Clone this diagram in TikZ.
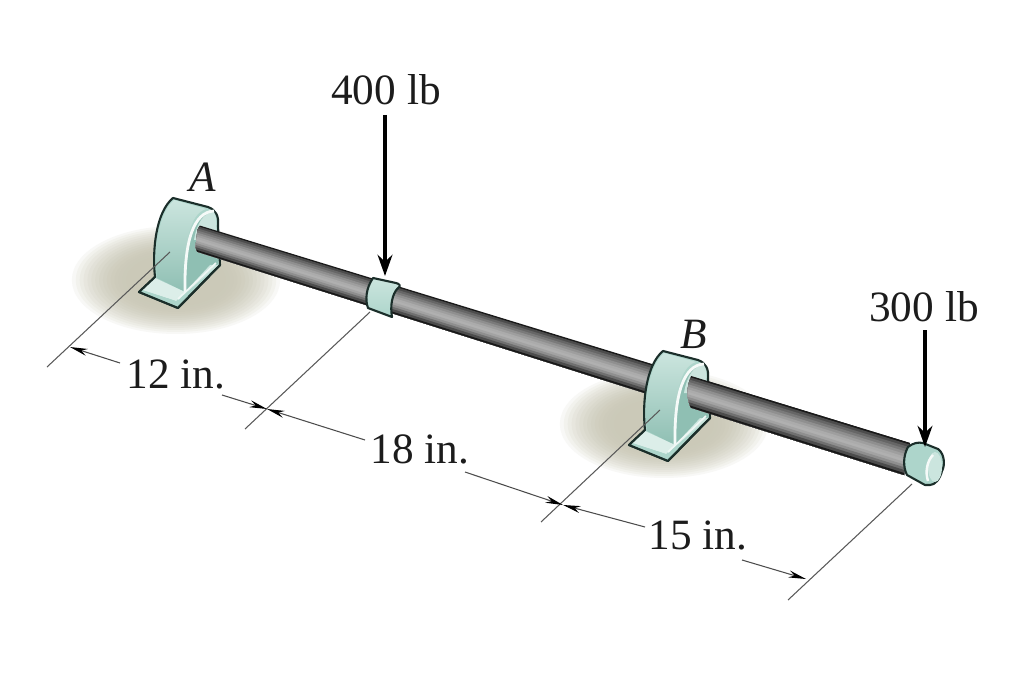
\documentclass[tikz,border=0pt]{standalone}
\usepackage{fontspec}
\setmainfont{Liberation Serif}
\usetikzlibrary{arrows.meta, calc}

\definecolor{blockedge}{HTML}{1B2E2A}
\definecolor{blocklight}{HTML}{DCEEE9}
\definecolor{blockhigh}{HTML}{CBE5DE}
\definecolor{blockmid}{HTML}{ADD5CB}
\definecolor{blockdark}{HTML}{8FBFB3}
\definecolor{groundtone}{HTML}{C2C0AC}
\definecolor{inktone}{HTML}{1C1C1C}

\tikzset{
  label/.style={font=\fontsize{12.3}{14}\selectfont, text=inktone, inner sep=1pt},
  extline/.style={draw=black!65, line width=0.3pt},
  dimline/.style={draw=black!70, line width=0.3pt},
  dimtip/.style={-{Stealth[length=5pt, width=2pt, black]}},
  loadarrow/.style={draw=black, line width=1.15pt, -{Stealth[length=6pt, width=4.2pt, black]}},
  blockline/.style={draw=blockedge, line width=0.6pt, line join=round}
}

% a soft patch of shadow on the ground
\newcommand{\groundpatch}[1]{
  \foreach \i in {0,...,15}{
    \pgfmathsetmacro{\shr}{1-\i*0.036}
    \pgfmathsetmacro{\tone}{85*(1-(1-\i/15)*(1-\i/15))}
    \fill[groundtone!\tone!white] (#1) ellipse ({108*\shr} and {56*\shr});
  }
}

% one pillow block, drawn at the place of support A
\newcommand{\pillowblock}{
  \fill[blockmid, blockline] (155,277) .. controls (152,250) and (156,212) .. (173,198) -- (208,207)
    .. controls (216,210) and (219,216) .. (218,226) -- (220,265) -- (178,308) -- (139,292) -- cycle;
  \shade[top color=blockhigh, bottom color=blockdark] (157,278) .. controls (154,250) and (158,214) .. (174,200)
    -- (206,209) .. controls (190,214) and (184,240) .. (185,292) -- cycle;
  \fill[blockdark] (212,212) .. controls (194,214) and (186,240) .. (186,291) -- (218,264) -- (216,226) -- cycle;
  \fill[blockhigh] (214,212) .. controls (204,213) and (197,222) .. (194,240) -- (217,240) -- (216,218) -- cycle;
  \draw[white!80!blockhigh, line width=0.8pt] (214,211) .. controls (194,212) and (184,240) .. (185,292);
  \fill[blocklight] (142,290) -- (155,278) -- (185,292) -- (176,301) -- cycle;
  \fill[blockhigh] (176,301) -- (185,292) -- (210,265) -- (219,265) -- cycle;
  \fill[blockmid] (140,292) -- (142,290) -- (176,301) -- (178,307) -- cycle;
  \draw[white!70!blockhigh, line width=0.5pt] (178,299) -- (216,263);
  \draw[blockline] (155,277) -- (139,292) -- (178,308) -- (220,265);
}

% the bands of the shaft, from its dark upper edge to its dark lower edge
\newcommand{\shaftbands}{
  \foreach \f/\k in {0/90,.05/70,.13/60,.21/52,.29/44,.37/38,.45/33,.53/31,.61/36,.69/44,.77/56,.85/70,.94/90}{
    \fill[black!\k] ($(shafttopA)!\f!(shaftbotA)$) -- (shaftbotA)
      -- (shaftbotE) -- ($(shafttopE)!\f!(shaftbotE)$) -- cycle;
  }
}

\begin{document}
\begin{tikzpicture}[x=0.01cm, y=-0.01cm]
    \useasboundingbox (0,0) rectangle (1024,682);

    \coordinate (shafttopA) at (198,225);
    \coordinate (shaftbotA) at (195,251);
    \coordinate (shafttopE) at (910,443);
    \coordinate (shaftbotE) at (904,475);

    % ground shadows
    \groundpatch{176,280}
    \groundpatch{664,424}

    % support A and the shaft
    \pillowblock
    \begin{scope}
        \clip (201,224) .. controls (194,232) and (193,246) .. (198,253) -- (920,500) -- (920,430) -- cycle;
        \shaftbands
    \end{scope}

    % support B, the shaft comes out of its hole
    \begin{scope}[shift={(490,153)}]
        \pillowblock
    \end{scope}
    \begin{scope}
        \clip (692,374) .. controls (686,386) and (686,400) .. (692,410) -- (920,500) -- (920,430) -- cycle;
        \shaftbands
    \end{scope}

    % collar under the first load
    \shade[top color=blockhigh, bottom color=blockmid, blockline] (373,278) -- (396,283)
        .. controls (400,284) and (401,286) .. (398,288)
        .. controls (392,294) and (390,306) .. (392,317) -- (368,308)
        .. controls (365,300) and (366,288) .. (373,278) -- cycle;

    % end of the shaft
    \fill[blockmid, blockline] (908,447) .. controls (913,443) and (918,442) .. (923,443) -- (938,449)
        .. controls (945,454) and (945,466) .. (942,471) .. controls (940,479) and (935,485) .. (930,485)
        -- (925,485) -- (907,475) .. controls (903,467) and (903,456) .. (908,447) -- cycle;
    \fill[blockhigh] (935,467) ellipse (7 and 15);
    \draw[white!80!blockhigh, line width=0.7pt] (933,455) .. controls (927,461) and (925,472) .. (928,481);

    % extension lines
    \coordinate (extAa) at (47,367);
    \coordinate (extAb) at (170,252);
    \coordinate (extCa) at (245,429);
    \coordinate (extCb) at (370,312);
    \coordinate (extBa) at (541,522);
    \coordinate (extBb) at (660,410);
    \coordinate (extEa) at (788,600);
    \coordinate (extEb) at (912,484);
    \draw[extline] (extAa) -- (extAb);
    \draw[extline] (extCa) -- (extCb);
    \draw[extline] (extBa) -- (extBb);
    \draw[extline] (extEa) -- (extEb);

    % dimensions
    \node[label] (lenAC) at (176,374) {12 in.};
    \node[label] (lenCB) at (420,449) {18 in.};
    \node[label] (lenBE) at (698,535) {15 in.};

    \coordinate (dimA) at (70,347);
    \coordinate (dimC) at (267,409);
    \coordinate (dimB) at (563,505);
    \coordinate (dimE) at (806,579);
    \coordinate (gapAa) at (120,363);
    \coordinate (gapAb) at (222,395);
    \coordinate (gapCa) at (365,440);
    \coordinate (gapCb) at (465,472);
    \coordinate (gapBa) at (645,527);
    \coordinate (gapBb) at (742,560);
    \draw[dimline, dimtip] (gapAa) -- (dimA);
    \draw[dimline, dimtip] (gapAb) -- (dimC);
    \draw[dimline, dimtip] (gapCa) -- (dimC);
    \draw[dimline, dimtip] (gapCb) -- (dimB);
    \draw[dimline, dimtip] (gapBa) -- (dimB);
    \draw[dimline, dimtip] (gapBb) -- (dimE);

    % loads
    \node[label] (loadC) at (386,90) {400 lb};
    \node[label] (loadE) at (924,307) {300 lb};
    \coordinate (loadCtip) at (385,276);
    \coordinate (loadEtip) at (925,447);
    \coordinate (loadCtail) at (385,115);
    \coordinate (loadEtail) at (925,330);
    \draw[loadarrow] (loadCtail) -- (loadCtip);
    \draw[loadarrow] (loadEtail) -- (loadEtip);

    % supports
    \node[label] (supA) at (203,177) {\textit{A}};
    \node[label] (supB) at (694,334) {\textit{B}};
\end{tikzpicture}
\end{document}
